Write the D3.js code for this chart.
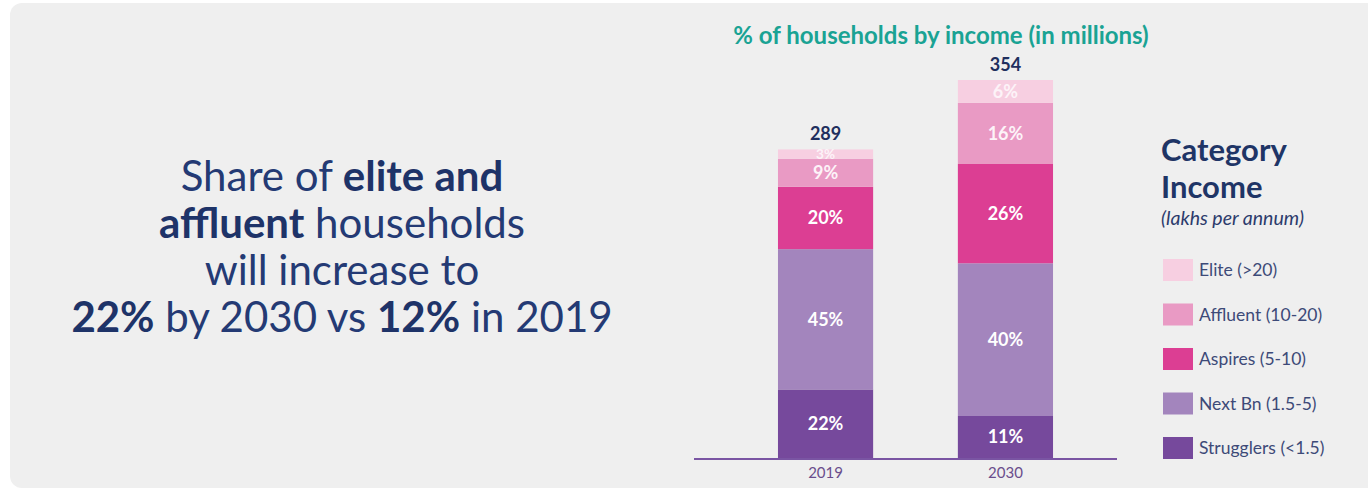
<!DOCTYPE html>
<html>
<head>
<meta charset="utf-8">
<script src="https://cdn.jsdelivr.net/npm/d3@7/dist/d3.min.js"></script>
<style>
  html, body { margin: 0; padding: 0; background: #ffffff; }
  svg { display: block; }
</style>
</head>
<body>
<svg id="chart" width="1368" height="491"></svg>
<script>
// Households by income category, 2019 vs 2030
const years = ["2019", "2030"];
const totals = [289, 354];                 // households, millions
const categories = ["Strugglers (<1.5)", "Next Bn (1.5-5)", "Aspires (5-10)", "Affluent (10-20)", "Elite (>20)"];
const strugglers = [22, 11];               // share of households, %
const nextBn = [45, 40];
const aspires = [20, 26];
const affluent = [9, 16];
const elite = [3, 6];
const colors = ["#76499c", "#a385bd", "#dc3e93", "#e99ac4", "#f7cfe1"];

const shares = [strugglers, nextBn, aspires, affluent, elite];

// Each segment's height is its share of the year's total households
const rows = years.map((y, i) => {
  const sum = d3.sum(shares, s => s[i]);
  const row = { year: y, total: totals[i] };
  categories.forEach((c, k) => {
    row[c] = shares[k][i] / sum * totals[i];
    row[c + "_pct"] = shares[k][i];
  });
  return row;
});

const svg = d3.select("#chart");

// panel background
svg.append("rect")
  .attr("x", 10).attr("y", 3)
  .attr("width", 1372).attr("height", 485)
  .attr("rx", 12)
  .attr("fill", "#efefef");

// headline
const navy = "#243a74";
const headline = [
  [["Share of ", 400], ["elite and", 700]],
  [["affluent", 700], [" households", 400]],
  [["will increase to", 400]],
  [["22%", 700], [" by 2030 vs ", 400], ["12%", 700], [" in 2019", 400]]
];
const head = svg.append("text")
  .attr("font-family", "Lato, 'Open Sans', sans-serif")
  .attr("font-size", 42)
  .attr("fill", navy)
  .attr("text-anchor", "middle");
headline.forEach((line, li) => {
  const t = head.append("tspan").attr("x", 342).attr("y", 191 + li * 47);
  line.forEach(([txt, w]) => {
    t.append("tspan").attr("font-weight", w).attr("fill", w === 700 ? "#1e3368" : navy).text(txt);
  });
});

// chart title
svg.append("text")
  .attr("x", 941).attr("y", 44)
  .attr("text-anchor", "middle")
  .attr("font-family", "Lato, sans-serif")
  .attr("font-weight", 700)
  .attr("font-size", 24)
  .attr("fill", "#1aa394")
  .text("% of households by income (in millions)");

const baseY = 458;
const x = d3.scaleBand()
  .domain(years)
  .range([733, 1098])
  .paddingInner(0.471)
  .paddingOuter(0.25);

const y = d3.scaleLinear()
  .domain([0, 354])
  .range([baseY, 80]);

const stack = d3.stack().keys(categories);
const series = stack(rows);

const layers = svg.append("g").selectAll("g")
  .data(series)
  .join("g")
  .attr("fill", (d, i) => colors[i]);

layers.selectAll("rect")
  .data(d => d)
  .join("rect")
  .attr("x", d => x(d.data.year))
  .attr("width", x.bandwidth())
  .attr("y", d => y(d[1]))
  .attr("height", d => y(d[0]) - y(d[1]));

// totals above the bars
const totalSize = 18;
const totalGap = 9;
svg.append("g").selectAll("text")
  .data(rows)
  .join("text")
  .attr("x", d => x(d.year) + x.bandwidth() / 2)
  .attr("y", d => y(d.total) - totalGap)
  .attr("text-anchor", "middle")
  .attr("font-family", "Lato, sans-serif")
  .attr("font-weight", 700)
  .attr("font-size", totalSize)
  .attr("fill", "#1f2f5e")
  .text(d => d.total);

// percentage labels inside segments, placed top-down so thin
// segments get a smaller label that does not collide with its neighbours
const ASC = 0.987, DESC = 0.213;
const labelG = svg.append("g")
  .attr("font-family", "Lato, sans-serif")
  .attr("font-weight", 700)
  .attr("text-anchor", "middle");
rows.forEach((row, i) => {
  let floor = y(row.total) - totalGap + DESC * totalSize;   // bottom of the total label
  for (let k = categories.length - 1; k >= 0; k--) {
    const d = series[k][i];
    const segH = y(d[0]) - y(d[1]);
    const size = Math.min(18, Math.max(13.5, segH + 4));
    let base = (y(d[0]) + y(d[1])) / 2 + 0.35 * size;
    if (base - ASC * size < floor) base = floor + ASC * size;
    floor = base + DESC * size;
    labelG.append("text")
      .attr("x", x(row.year) + x.bandwidth() / 2)
      .attr("y", base)
      .attr("font-size", size)
      .attr("fill", k >= 3 ? "#fdf3f8" : "#ffffff")
      .text(row[categories[k] + "_pct"] + "%");
  }
});

// baseline axis
const axis = svg.append("g")
  .attr("transform", `translate(0,${baseY})`)
  .call(d3.axisBottom(x).tickSize(0).tickPadding(9));
axis.select(".domain").remove();
axis.append("line")
  .attr("x1", 694).attr("x2", 1117)
  .attr("y1", 1).attr("y2", 1)
  .attr("stroke", "#7a55a3")
  .attr("stroke-width", 2.2);
axis.selectAll(".tick text")
  .attr("font-family", "Lato, sans-serif")
  .attr("font-size", 15)
  .attr("fill", "#6a4d8c");

// legend heading, lines stacked by their font line boxes
const legend = svg.append("g").attr("font-family", "Lato, sans-serif");
const headSize = 31, subSize = 19.5;
const catY = 161;
const incY = catY + (ASC + DESC) * headSize;
const subY = incY + DESC * headSize + ASC * subSize + 0.5;
legend.append("text")
  .attr("x", 1161).attr("y", catY)
  .attr("font-weight", 700).attr("font-size", headSize).attr("fill", "#1f3566")
  .text("Category");
legend.append("text")
  .attr("x", 1161).attr("y", incY)
  .attr("font-weight", 700).attr("font-size", headSize).attr("fill", "#1f3566")
  .text("Income");
legend.append("text")
  .attr("x", 1161).attr("y", subY)
  .attr("font-style", "italic").attr("font-size", subSize).attr("fill", "#2c3b6c")
  .text("(lakhs per annum)");

const legendOrder = d3.range(categories.length).reverse();
const items = legend.selectAll("g.item")
  .data(legendOrder)
  .join("g")
  .attr("class", "item")
  .attr("transform", (k, i) => `translate(1163,${259 + i * 44.5})`);
items.append("rect")
  .attr("width", 30).attr("height", 22)
  .attr("fill", k => colors[k]);
items.append("text")
  .attr("x", 36).attr("y", 11)
  .attr("dy", "0.35em")
  .attr("font-size", 17.5)
  .attr("fill", "#3d4a78")
  .text(k => categories[k]);
</script>
</body>
</html>
